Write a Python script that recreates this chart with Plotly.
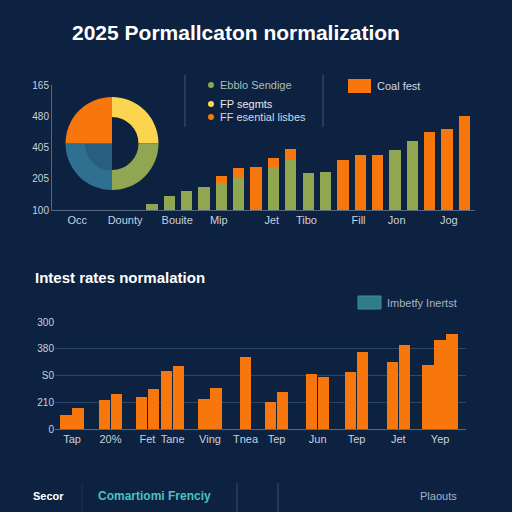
import plotly.graph_objects as go

# colours
bg = '#0d2141'
green = '#90a651'
orange = '#f8770d'
yellow = '#fcd550'
blue = '#2f6f8f'
blue_in = '#285f80'
teal = '#2f7b88'
axis_col = '#56677f'
grid_col = '#29456a'
txt = '#c9d1db'

# top chart data
top_labels = ['Occ', 'Dounty', 'Bouite', 'Mip', 'Jet', 'Tibo', 'Fill', 'Jon', 'Jog']
top_label_pos = [-4.3, -1.55, 1.45, 3.85, 6.9, 8.9, 11.9, 14.1, 17.1]
top_yticks = ['100', '205', '405', '480', '165']
green_vals = [19, 45, 61, 74, 87, 103, None, 139, 161, 119, 123, None, None, None, 194, 223, None, None, None]
orange_vals = [None, None, None, None, 23, 32, 139, 29, 36, None, None, 161, 177, 177, None, None, 252, 261, 303]

pie_labels = ['FP segmts', 'Ebblo Sendige', 'Other', 'FF esential lisbes']
pie_shares = [25, 25, 25, 25]

# bottom chart data
rate_labels = ['Tap', '20%', 'Fet', 'Tane', 'Ving', 'Tnea', 'Tep', 'Jun', 'Tep', 'Jet', 'Yep']
rate_pos = [0.46, 1.5, 2.5, 3.18, 4.19, 5.15, 5.99, 7.1, 8.15, 9.28, 10.41]
rate_values = [[52, 78], [109, 131], [120, 150], [217, 236], [112, 153], [269],
               [101, 138], [206, 194], [213, 288], [250, 314], [239, 333, 355]]
rate_yticks = ['0', '210', 'S0', '380', '300']

W = 512


def px(x):
    return x / W


def py(y):
    return 1 - y / W


fig = go.Figure()

# top stacked bars
idx = list(range(len(green_vals)))
fig.add_trace(go.Bar(x=idx, y=green_vals, marker_color=green, width=0.65,
                     marker_line_width=0, xaxis='x', yaxis='y', showlegend=False))
fig.add_trace(go.Bar(x=idx, y=orange_vals, marker_color=orange, width=0.65,
                     marker_line_width=0, xaxis='x', yaxis='y', showlegend=False))

# pie (outer ring + filled left half)
fig.add_trace(go.Pie(labels=pie_labels, values=pie_shares, hole=0.57, sort=False,
                     direction='clockwise', rotation=0, textinfo='none',
                     marker=dict(colors=[yellow, green, blue, orange], line=dict(width=0)),
                     domain=dict(x=[px(65), px(159)], y=[py(190), py(97)]),
                     showlegend=False))
fig.add_trace(go.Pie(labels=pie_labels, values=pie_shares, sort=False,
                     direction='clockwise', rotation=0, textinfo='none',
                     marker=dict(colors=['rgba(0,0,0,0)', 'rgba(0,0,0,0)', blue_in, orange],
                                 line=dict(width=0)),
                     domain=dict(x=[px(85), px(139)], y=[py(170.5), py(116.5)]),
                     showlegend=False))

# bottom grouped bars
bx, by = [], []
step = 0.325
for p, vals in zip(rate_pos, rate_values):
    n = len(vals)
    for j, v in enumerate(vals):
        bx.append(p + (j - (n - 1) / 2) * step)
        by.append(v)
fig.add_trace(go.Bar(x=bx, y=by, width=0.31, marker_color=orange, marker_line_width=0,
                     xaxis='x2', yaxis='y2', showlegend=False))

fig.update_layout(
    width=512, height=512,
    margin=dict(l=0, r=0, t=0, b=0, pad=0, autoexpand=False),
    paper_bgcolor=bg, plot_bgcolor='rgba(0,0,0,0)',
    barmode='stack',
    font=dict(family='Liberation Sans', color=txt, size=11),
    xaxis=dict(domain=[px(52), px(475)], range=[-5.76, 18.61], anchor='y',
               showline=True, linecolor=axis_col, showgrid=False, zeroline=False,
               automargin=False,
               tickvals=top_label_pos, ticktext=top_labels, tickfont=dict(size=11, color=txt)),
    yaxis=dict(domain=[py(210), py(85)], range=[0, 403], anchor='x',
               showline=True, linecolor=axis_col, showgrid=False, zeroline=False,
               automargin=False,
               tickvals=[0, 100, 200, 300, 400], ticktext=top_yticks,
               tickfont=dict(size=10, color=txt)),
    xaxis2=dict(domain=[px(55), px(466)], range=[0, 11.11], anchor='y2',
                showline=True, linecolor=axis_col, showgrid=False, zeroline=False,
                automargin=False,
                tickvals=rate_pos, ticktext=rate_labels, tickfont=dict(size=11, color=txt)),
    yaxis2=dict(domain=[py(429), py(322)], range=[0, 400], anchor='x2',
                showline=False, showgrid=True, gridcolor=grid_col, zeroline=False,
                automargin=False,
                tickvals=[0, 100, 200, 300, 400], ticktext=rate_yticks,
                tickfont=dict(size=10, color=txt)),
)

ann = []


def label(x, y, text, size=11, color=txt, bold=False, anchor='left'):
    if bold:
        text = '<b>' + text + '</b>'
    ann.append(dict(x=px(x), y=py(y), xref='paper', yref='paper', text=text,
                    showarrow=False, xanchor=anchor, yanchor='middle',
                    font=dict(size=size, color=color)))


label(70, 32, '2025 Pormallcaton normalization', size=21, color='#ffffff', bold=True)
label(33, 277, 'Intest rates normalation', size=15, color='#ffffff', bold=True)

# top legend
label(218, 85, 'Ebblo Sendige', color='#aebfb4')
label(218, 104, 'FP segmts', color='#e6e9ee')
label(218, 117, 'FF esential lisbes', color='#d4dae2')
label(375, 86, 'Coal fest', color='#d4dae2')
# bottom legend
label(385, 303, 'Imbetfy Inertst', color='#a9b4c1')
# footer
label(31, 496, 'Secor', size=11, color='#ffffff', bold=True)
label(96, 496, 'Comartiomi Frenciy', size=12, color='#49c1c2', bold=True)
label(418, 496, 'Plaouts', size=11, color='#a9b4c1')

shapes = []
for xl in (185, 323):
    shapes.append(dict(type='line', xref='paper', yref='paper', x0=px(xl), x1=px(xl),
                       y0=py(75), y1=py(127), line=dict(color='#45566f', width=1)))
for (cx, cy, c) in ((211, 85, green), (211, 104, yellow), (211, 117, orange)):
    shapes.append(dict(type='circle', xref='paper', yref='paper', x0=px(cx - 3), x1=px(cx + 3),
                       y0=py(cy + 3), y1=py(cy - 3), fillcolor=c, line=dict(width=0)))
shapes.append(dict(type='rect', xref='paper', yref='paper', x0=px(348), x1=px(371),
                   y0=py(93), y1=py(79), fillcolor=orange, line=dict(width=0)))
shapes.append(dict(type='rect', xref='paper', yref='paper', x0=px(358), x1=px(381),
                   y0=py(309), y1=py(296), fillcolor=teal, line=dict(color='#3f8e99', width=1)))
for xl in (82, 237, 278):
    shapes.append(dict(type='line', xref='paper', yref='paper', x0=px(xl), x1=px(xl),
                       y0=py(512), y1=py(483),
                       line=dict(color='#3a4c66' if xl > 100 else '#1d3352', width=1)))

fig.update_layout(annotations=ann, shapes=shapes)

# the page has a default body margin; drop it so the 512px figure fills the window
fig.write_html('out.html', config={'displayModeBar': False},
               post_script="document.body.style.margin='0';document.body.style.overflow='hidden';")
